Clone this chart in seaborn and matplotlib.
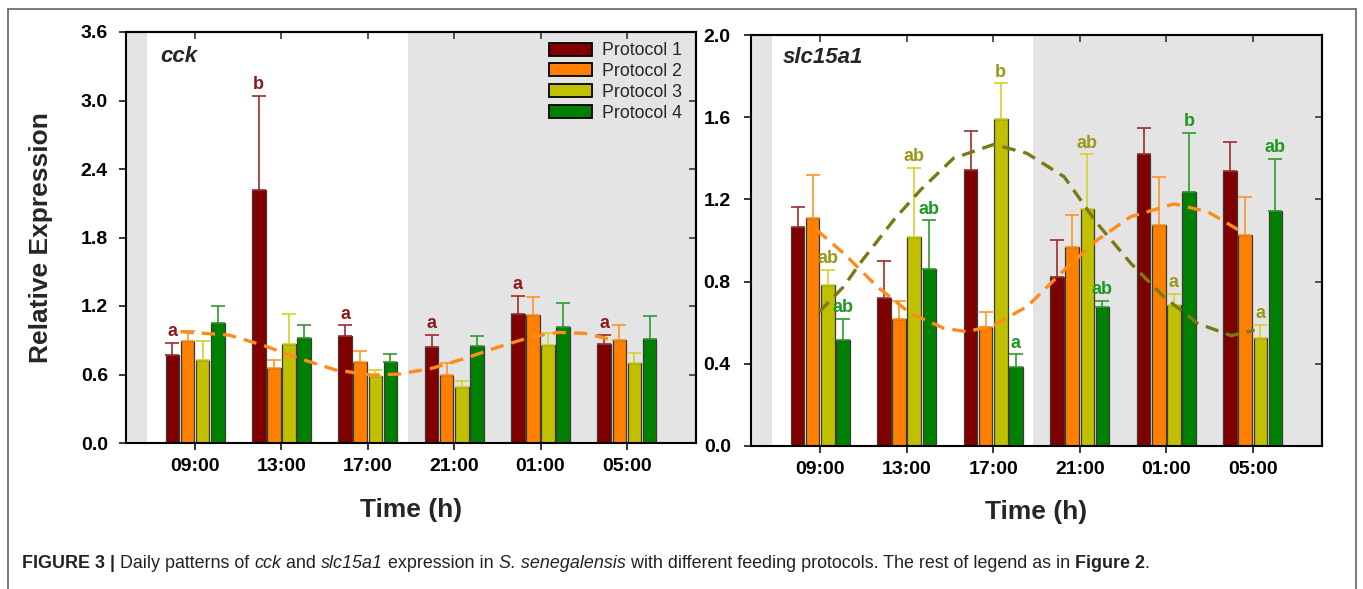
import numpy as np
import pandas as pd
import matplotlib
matplotlib.use("Agg")
import matplotlib.pyplot as plt
import seaborn as sns
from matplotlib.patches import Patch
from matplotlib.lines import Line2D

# ---------------- data ----------------
times = ["09:00", "13:00", "17:00", "21:00", "01:00", "05:00"]
protocols = ["Protocol 1", "Protocol 2", "Protocol 3", "Protocol 4"]

cck_mean_p1 = [0.77, 2.22, 0.94, 0.84, 1.13, 0.87]
cck_mean_p2 = [0.89, 0.66, 0.71, 0.60, 1.12, 0.90]
cck_mean_p3 = [0.73, 0.87, 0.59, 0.49, 0.86, 0.70]
cck_mean_p4 = [1.05, 0.92, 0.71, 0.85, 1.02, 0.91]
cck_upper_p1 = [0.88, 3.04, 1.03, 0.95, 1.29, 0.95]
cck_upper_p2 = [0.98, 0.73, 0.81, 0.70, 1.28, 1.03]
cck_upper_p3 = [0.89, 1.13, 0.64, 0.54, 0.96, 0.79]
cck_upper_p4 = [1.20, 1.03, 0.78, 0.94, 1.23, 1.11]

slc_mean_p1 = [1.068, 0.718, 1.345, 0.820, 1.420, 1.337]
slc_mean_p2 = [1.110, 0.617, 0.578, 0.968, 1.075, 1.027]
slc_mean_p3 = [0.783, 1.017, 1.593, 1.152, 0.685, 0.524]
slc_mean_p4 = [0.515, 0.861, 0.383, 0.674, 1.238, 1.144]
slc_upper_p1 = [1.164, 0.902, 1.532, 1.004, 1.547, 1.479]
slc_upper_p2 = [1.321, 0.704, 0.651, 1.126, 1.310, 1.210]
slc_upper_p3 = [0.856, 1.355, 1.764, 1.419, 0.742, 0.591]
slc_upper_p4 = [0.620, 1.098, 0.446, 0.706, 1.524, 1.399]

cck_letters_p1 = ["a", "b", "a", "a", "a", "a"]
slc_letters_p3 = ["ab", "ab", "b", "ab", "a", "a"]
slc_letters_p4 = ["ab", "ab", "a", "ab", "b", "ab"]

# fitted rhythm curves (x in time-slot units)
cck_fit_p2_x = [-0.17, 0.39, 0.78, 1.20, 1.63, 2.05, 2.36, 2.74, 3.13, 3.52, 3.90, 4.21, 4.52, 4.87]
cck_fit_p2_y = [0.975, 0.946, 0.858, 0.742, 0.639, 0.595, 0.604, 0.654, 0.742, 0.843, 0.931, 0.969, 0.960, 0.896]
slc_fit_p2_x = [-0.04, 0.27, 0.66, 1.04, 1.43, 1.70, 2.01, 2.39, 2.82, 3.20, 3.59, 4.09, 4.48, 4.90]
slc_fit_p2_y = [1.051, 0.938, 0.775, 0.646, 0.573, 0.556, 0.589, 0.678, 0.856, 1.002, 1.116, 1.178, 1.140, 1.035]
slc_fit_p3_x = [-0.01, 0.27, 0.46, 0.85, 1.16, 1.54, 2.01, 2.39, 2.82, 3.20, 3.59, 3.97, 4.36, 4.75, 5.02]
slc_fit_p3_y = [0.654, 0.775, 0.889, 1.100, 1.246, 1.400, 1.468, 1.424, 1.310, 1.084, 0.889, 0.727, 0.597, 0.537, 0.564]

# ---------------- style ----------------
bar_colors = ["#800000", "#FF8000", "#C0C000", "#008000"]
err_colors = ["#9E2B2B", "#FF9326", "#D2D22A", "#2E9A2E"]
shade = "#E4E4E4"

sns.set_style("ticks")
plt.rcParams["font.family"] = ["Liberation Sans", "DejaVu Sans"]

W, H = 1363, 589
fig = plt.figure(figsize=(W / 100, H / 100), dpi=100)
fig.patch.set_facecolor("white")

ax1 = fig.add_axes([126 / W, 1 - 443 / H, 570 / W, 411 / H])
ax2 = fig.add_axes([751 / W, 1 - 446 / H, 571 / W, 411 / H])


def long_df(means, uppers):
    rows = []
    for p, m, u in zip(protocols, means, uppers):
        for t, mv, uv in zip(times, m, u):
            rows.append({"time": t, "protocol": p, "value": mv, "upper": uv})
    return pd.DataFrame(rows)


def draw_panel(ax, df, ylim, yticks, ypad):
    xl = (-0.80, 5.80)
    ax.set_facecolor("white")
    ax.axvspan(xl[0], -0.56, color=shade, zorder=0, lw=0)
    ax.axvspan(2.46, xl[1], color=shade, zorder=0, lw=0)
    sns.barplot(data=df, x="time", y="value", hue="protocol", order=times,
                hue_order=protocols, palette=bar_colors, saturation=1,
                width=0.7, gap=0.1,
                edgecolor="#3A3A3A", linewidth=0.9, errorbar=None,
                legend=False, ax=ax, zorder=2)
    tops = {}
    for k, (p, cont) in enumerate(zip(protocols, ax.containers)):
        sub = df[df.protocol == p].set_index("time").loc[times]
        xs = [b.get_x() + b.get_width() / 2 for b in cont]
        m = sub["value"].values
        u = sub["upper"].values
        ax.errorbar(xs, m, yerr=[np.zeros_like(m), u - m], fmt="none",
                    ecolor=err_colors[k], elinewidth=1.2, capsize=5.2,
                    capthick=1.2, zorder=2.5)
        tops[k] = (xs, u)
    ax.set_xlim(*xl)
    ax.set_ylim(*ylim)
    ax.set_yticks(yticks)
    ax.set_yticklabels([f"{v:.1f}" for v in yticks])
    ax.set_xlabel("Time (h)", fontsize=19, fontweight="bold", labelpad=16)
    ax.set_ylabel("")
    for lab in ax.get_xticklabels() + ax.get_yticklabels():
        lab.set_fontweight("bold")
        lab.set_fontsize(14)
    ax.tick_params(axis="x", direction="out", length=5, width=1.1, pad=6,
                   top=False, colors="black")
    ax.tick_params(axis="y", direction="out", length=5, width=1.1, pad=ypad,
                   right=False, colors="black")
    for s in ax.spines.values():
        s.set_visible(True)
        s.set_linewidth(1.5)
        s.set_color("black")
        s.set_zorder(5)
    sx = ax.secondary_xaxis("top")
    sx.set_xticks(range(len(times)))
    sx.tick_params(direction="in", length=5, width=1.1, labeltop=False)
    sx.spines["top"].set_linewidth(1.5)
    sy = ax.secondary_yaxis("right")
    sy.set_yticks(yticks)
    sy.tick_params(direction="in", length=5, width=1.1, labelright=False)
    sy.spines["right"].set_linewidth(1.5)
    return tops


def letters(ax, xs, ys, labs, color):
    for x, y, s in zip(xs, ys, labs):
        ax.annotate(s, xy=(x, y), xytext=(0, 2), textcoords="offset points",
                    ha="center", va="bottom", fontsize=13, fontweight="bold",
                    color=color, zorder=6)


# ---- left panel: cck ----
df1 = long_df([cck_mean_p1, cck_mean_p2, cck_mean_p3, cck_mean_p4],
              [cck_upper_p1, cck_upper_p2, cck_upper_p3, cck_upper_p4])
tops1 = draw_panel(ax1, df1, (0, 3.6), np.round(np.arange(0, 3.61, 0.6), 1), 8)
ax1.plot(cck_fit_p2_x, cck_fit_p2_y, color="#FF8C1A", lw=2.4,
         ls=(0, (4, 2.4)), zorder=4)
letters(ax1, tops1[0][0], tops1[0][1], cck_letters_p1, "#8B1A1A")
ax1.text(0.06, 0.94, "cck", transform=ax1.transAxes, fontsize=16,
         fontweight="bold", fontstyle="italic", va="center", ha="left", zorder=6)
handles = [Patch(facecolor=c, edgecolor="black", linewidth=1.3) for c in bar_colors]
ax1.legend(handles, protocols, loc="upper right", bbox_to_anchor=(0.975, 0.975),
           frameon=False, fontsize=12.8, borderpad=0, borderaxespad=0,
           handlelength=2.4, handleheight=0.75, handletextpad=0.55,
           labelspacing=0.22)
ax1.set_ylabel("Relative Expression", fontsize=19, fontweight="bold")
ax1.yaxis.set_label_coords(-(126 - 53) / 570, 0.5)

# ---- right panel: slc15a1 ----
df2 = long_df([slc_mean_p1, slc_mean_p2, slc_mean_p3, slc_mean_p4],
              [slc_upper_p1, slc_upper_p2, slc_upper_p3, slc_upper_p4])
tops2 = draw_panel(ax2, df2, (0, 2.0), np.round(np.arange(0, 2.01, 0.4), 1), 9.5)
ax2.plot(slc_fit_p2_x, slc_fit_p2_y, color="#FF8C1A", lw=2.4,
         ls=(0, (4, 2.4)), zorder=4)
ax2.plot(slc_fit_p3_x, slc_fit_p3_y, color="#7A7A12", lw=2.4,
         ls=(0, (4, 2.4)), zorder=4)
letters(ax2, tops2[2][0], tops2[2][1], slc_letters_p3, "#9A9A1A")
letters(ax2, tops2[3][0], tops2[3][1], slc_letters_p4, "#1E9A1E")
ax2.text(0.056, 0.946, "slc15a1", transform=ax2.transAxes, fontsize=16,
         fontweight="bold", fontstyle="italic", va="center", ha="left", zorder=6)

# ---- frame ----
fc = "#6E6E6E"
fig.add_artist(Line2D([8 / W, 8 / W], [0, 1 - 9 / H], transform=fig.transFigure, color=fc, lw=1.3))
fig.add_artist(Line2D([1356 / W, 1356 / W], [0, 1 - 9 / H], transform=fig.transFigure, color=fc, lw=1.3))
fig.add_artist(Line2D([8 / W, 1356 / W], [1 - 9 / H, 1 - 9 / H], transform=fig.transFigure, color=fc, lw=1.3))

# ---- caption ----
segs = [("FIGURE 3 |", "bold", "normal"),
        (" Daily patterns of ", "normal", "normal"),
        ("cck", "normal", "italic"),
        (" and ", "normal", "normal"),
        ("slc15a1", "normal", "italic"),
        (" expression in ", "normal", "normal"),
        ("S. senegalensis", "normal", "italic"),
        (" with different feeding protocols. The rest of legend as in ", "normal", "normal"),
        ("Figure 2", "bold", "normal"),
        (".", "normal", "normal")]
cap_fs = 12.9
t = ax1.annotate(segs[0][0], xy=(22 / W, 1 - 568 / H), xycoords="figure fraction",
                 ha="left", va="baseline", fontsize=cap_fs, fontweight=segs[0][1],
                 fontstyle=segs[0][2], color="#222222", annotation_clip=False)
for s, w, st in segs[1:]:
    t = ax1.annotate(s, xy=(1, 0), xycoords=t, ha="left", va="bottom",
                     fontsize=cap_fs, fontweight=w, fontstyle=st,
                     color="#222222", annotation_clip=False)

fig.savefig("out.png", dpi=100)
